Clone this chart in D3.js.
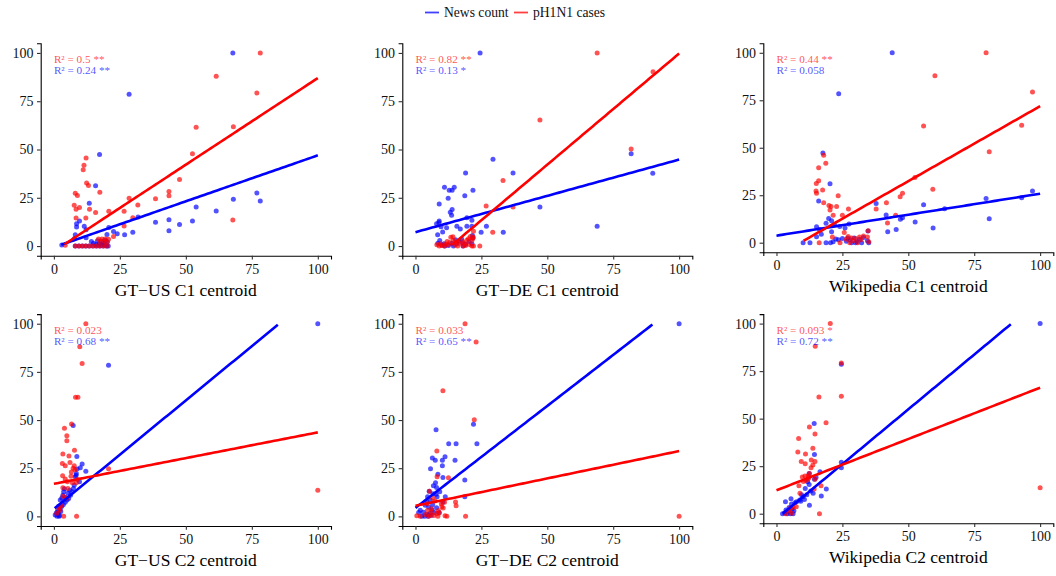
<!DOCTYPE html>
<html>
<head>
<meta charset="utf-8">
<script src="https://cdn.jsdelivr.net/npm/d3@7"></script>
<style>
  html, body { margin: 0; padding: 0; background: #fff; }
  svg { display: block; font-family: "Liberation Serif", "DejaVu Serif", serif; }
  svg text { font-family: "Liberation Serif", "DejaVu Serif", serif; }
</style>
</head>
<body>
<svg id="chart" width="1056" height="576"></svg>
<script>
// Series names and colours
const seriesNames = ["News count", "pH1N1 cases"];
const seriesColors = ["#0000ff", "#ff0000"];

// Panel titles (x-axis labels)
const panelTitles = [
  "GT\u2212US C1 centroid", "GT\u2212DE C1 centroid", "Wikipedia C1 centroid",
  "GT\u2212US C2 centroid", "GT\u2212DE C2 centroid", "Wikipedia C2 centroid"
];

// Axis ticks
const tickValues = [0, 25, 50, 75, 100];

// R² annotations per panel
const casesR2 = ["0.5 **", "0.82 **", "0.44 **", "0.023", "0.033", "0.093 *"];
const newsR2 = ["0.24 **", "0.13 *", "0.058", "0.68 **", "0.65 **", "0.72 **"];

// Linear fits per panel: [intercept, slope, xmin, xmax]
const casesFit = [
  [-2.7, 0.897, 2.8, 100], [-15.4, 1.151, 0, 100], [-7.1, 0.79, 10.3, 100],
  [16.9, 0.267, 0, 100], [5.5, 0.284, 0, 100], [12.3, 0.54, 0, 100]
];
const newsFit = [
  [-0.63, 0.476, 2.8, 100], [7.2, 0.376, 0, 100], [3.7, 0.221, 0, 100],
  [3.9, 1.126, 0.3, 100], [4.4, 1.059, 0, 100], [-2.7, 1.152, 2.4, 100]
];

// Observations: [centroid, value]
const usC1Cases = [[78.2,100],[61.5,88],[76.9,79.3],[68,61.8],[53.9,61.5],[52.5,47.8],[47.6,34.5],[43.6,28.3],[43.6,26],[38.5,24.5],[28.5,24.7],[31.8,21.2],[26.6,18],[20.8,18],[29.9,14.7],[26.6,10.4],[67.8,13.5],[22.6,5],[12.2,45.6],[11.4,41.8],[11.1,39.5],[12.4,32.6],[13.1,31.3],[17.4,27.8],[8.1,27.4],[8.9,26.2],[7.7,21.1],[9.7,19.9],[8.4,19],[13.5,19],[15.8,17.4],[8.4,14.5],[12.1,14.5],[16.9,3.6],[18.2,3.6],[19.4,3.7],[20.7,3.5],[17.5,2.2],[19,2.4],[20,1.8],[4.3,0.4],[8.1,0],[9.5,0],[10.8,0],[12.1,0],[13.4,0],[14.8,0],[16.1,0],[17.4,0],[18.7,0],[20,0]];
const usC1News = [[67.8,100],[28.5,78.6],[17.3,47.4],[15.8,31.2],[76.9,27.5],[78.2,23.3],[68,24.2],[53.9,20.2],[61.5,18.1],[13.4,22.1],[43.6,13.6],[38.5,12.3],[47.6,11.1],[52.5,13],[43.6,7.9],[29.9,7.2],[26.8,5.9],[31.9,15],[9.7,13],[8.6,11.5],[8.6,9.8],[11.5,10.3],[12.2,8.5],[8.1,5.9],[12.2,4.3],[20.8,9.6],[22.6,7.5],[24,6.4],[20.1,6],[8.1,0],[9.5,0],[10.8,0],[12.1,0],[13.4,0],[14.8,0],[16.1,0],[17.4,0],[18.7,0],[20,0],[20.6,0],[15,1.5],[16.5,2.8],[17.2,1],[18,2.5],[18.8,1.4],[19.5,3],[20.3,2.2],[14.2,2.3],[17.8,0.5],[19.2,0.6],[16,0.8],[7.7,3.8],[3,0.6]];

const deC1Cases = [[68.9,100],[90.1,90.3],[47.2,65.3],[81.8,50.3],[33.2,34],[37,20.2],[26.8,20.7],[29.3,7.2],[24.4,0],[8.1,0.7],[9.4,1.2],[12.5,0.7],[13.4,4.5],[14.4,2.9],[15.7,2.1],[17.9,2.4],[18.7,1.2],[20.1,3.8],[21.4,2.9],[22,7.6],[21.4,0],[18,0],[16,0],[13,1.8],[11,0],[10,0.3],[14.2,4.8],[19.5,3],[20.8,5],[21.8,4],[12,2.3],[15,0.5],[17,1.5],[19,0.3],[20.5,0.8],[22,0],[9,0],[11.5,1],[21.9,4.7]];
const deC1News = [[24.5,100],[29.4,44.9],[19,37.8],[37,37.8],[81.8,47.8],[90,37.7],[47.2,20.2],[68.9,10.2],[33.3,7.1],[24.9,7.1],[26.9,10.2],[11,30.4],[12.8,28.9],[13.9,28.9],[14.7,30.4],[21.8,28.9],[18.7,26.1],[12.4,24.7],[9,21.8],[13.9,18.9],[13.2,17.5],[13.7,15.9],[19.5,14.7],[9,13],[8.9,12.2],[8,11.5],[9.7,10],[21.4,13.3],[15.7,10.2],[17,8.8],[19.5,10.2],[21.4,10.2],[8.4,5.9],[10.3,7.3],[9.2,2.9],[10.8,1.2],[11.1,0],[14.4,0],[15.7,1.2],[17.9,1.6],[18.1,0],[21.4,1.2],[21.6,5.5],[21.7,4.2],[8.5,1.5],[10,0.5],[12.5,0.3],[16.5,2.5],[19,0.8],[20.3,2.4],[13.8,1.5],[15.2,3.2],[11.8,9.5],[17.5,3.7]];

const wikiC1Cases = [[79.5,100],[60.1,87.9],[97.1,79.3],[55.8,61.4],[93,61.8],[80.7,47.9],[52.5,34.4],[59.3,28.1],[47.8,26],[46.9,24.2],[41.7,21],[37.8,17.7],[42.1,10.4],[45.2,14.4],[25.7,5.4],[23.4,24.7],[17.9,46.1],[18.7,41.8],[16,39.5],[16,32.6],[15.1,31.2],[15,27.2],[15.2,26],[17.5,27.7],[17.9,21],[19.9,19.6],[20.7,19],[22.8,19],[20.3,17.2],[27.3,17.7],[21.5,14.4],[25,14.4],[16.2,0],[24.1,0],[21.2,3],[27.2,3.3],[28.5,2.5],[30,2.2],[31.5,3],[33,3.5],[34.5,3],[29,1],[32,1.5],[26.5,1.8],[34.8,6.3],[35,0.5],[30.8,0],[27.8,0]];
const wikiC1News = [[43.9,100],[23.6,78.4],[17.6,47.2],[20.3,31.1],[16,21.9],[37.8,20.7],[55.8,20],[41.6,14.6],[52.6,10.9],[47,12.3],[47.8,13.2],[63.8,17.9],[79.5,23.3],[97.1,27.2],[93,23.7],[80.7,12.6],[59.4,7.7],[45.4,7],[42.2,5.8],[34.7,6.1],[19.8,12.8],[20.9,11.6],[18.8,10.2],[15.2,8.4],[20.9,5.8],[15.2,3.2],[10.1,0],[12.7,0],[18.8,0],[20.5,0],[21.5,0.5],[22.5,2],[23.5,1.5],[25,2.2],[26.5,0.8],[27,2.5],[28,1.5],[28.5,0],[29.5,2.5],[30.5,0.5],[31.5,1.8],[32.3,0],[33,2.8],[34.5,1],[35,0],[26,7.8],[24,8.5],[16.3,7],[17,4.5],[22,9.5],[27.5,9.8],[30,0]];

const usC2Cases = [[12.1,100],[9.8,88.1],[10.7,79.4],[8.2,61.8],[9.1,61.8],[6.7,47.9],[4,45.7],[4.9,41.9],[4.9,39.3],[3.4,32.4],[5.7,31.3],[7.8,34.3],[3.2,27.5],[4.3,26.3],[6.1,28],[7.7,26.3],[6.6,23],[8,24.2],[3.3,21.1],[4.3,19.4],[5.1,18],[7,17.5],[8.5,17.5],[9,19.2],[3.4,14.9],[5.3,14.5],[20.7,24.7],[100,13.5],[8.6,0],[3.7,0],[1.8,4.3],[2.3,3.2],[2.8,5.5],[4.8,9.5],[3.5,10.5],[6.5,20.8],[7.3,25],[1.1,1.6]];
const usC2News = [[100,100],[20.7,78.5],[7.3,47.2],[8.7,31.1],[10.7,27.2],[12.1,23.4],[8.8,24.6],[8.5,22.3],[8.1,20.6],[9.7,18],[7.7,16.2],[7.4,14.5],[6.8,12.8],[6.3,11],[5.6,9.3],[5,8.5],[4.3,7.3],[3.6,6.1],[3,5.2],[2.4,3.9],[1.4,3],[0.9,1.7],[0.5,0.7],[3.7,12.8],[3.4,11],[4,14.3],[2.4,8.5],[3,9.5],[4.5,9.8],[1.8,5.2],[1.6,1.5],[2.2,0.5],[1.2,0],[2,0],[1.5,2.2],[2.6,2.5],[6,13.6],[5.3,12],[10,25.3],[8.4,21.4]];

const deC2Cases = [[18.8,100],[23,90.5],[10.4,65.2],[22.3,50.2],[8.1,33.9],[12.5,20.1],[8.2,20.6],[15.2,7.4],[15.4,5.5],[19,0],[100,0],[5.3,13.1],[10,5],[8.7,3],[8.1,1.5],[6.2,2.4],[5.6,0.7],[0.5,0.3],[1.8,0],[11.9,0],[11.2,0.3],[10.5,4.3],[4.4,6.5],[7.4,8],[6,4],[9.8,6.5],[4.5,3],[7,0.5],[3.8,1],[9,1.8],[11,7.3],[6.5,9.5],[5,0],[8.5,0]];
const deC2News = [[100,100],[22,47.8],[12.6,37.7],[15.4,37.7],[23.3,37.7],[7.8,45],[6.4,30.3],[7.5,29.1],[11.2,31],[10.2,29.1],[15,29.1],[10.2,26.3],[5.7,24.7],[8.5,21.8],[10.4,20.2],[18.7,18.9],[7.6,17.5],[6.8,15.9],[5.2,13],[8,15],[11.3,10.2],[18.7,10.2],[8.2,10.2],[10.4,7.3],[4.6,10.2],[5.6,8.5],[4.3,7.6],[3.7,5.8],[1.8,3.2],[1.2,2],[3,2.2],[3.5,0],[4.8,0],[5.5,1.5],[6.3,3.5],[6.5,6],[8,4.5],[7.2,2],[4.5,1],[6,0.5],[2.4,0],[9,2],[5,4.8],[7.8,11.5],[9.2,12.8],[6.6,11.8]];

const wikiC2Cases = [[20.4,100],[14.7,88.1],[24.6,79.3],[24.6,61.8],[16.1,61.4],[18.8,47.9],[12.5,45.6],[14.6,41.9],[8.4,39.5],[13.8,34.4],[8.1,32.5],[11,31.4],[9.4,27.4],[10.9,26.3],[13.2,28.2],[14.6,27.4],[13.8,25.6],[13.1,24.2],[10.8,19.8],[9.8,19.3],[12.5,21.2],[11.9,18.1],[14.6,18.1],[8.5,14.7],[16.9,14.7],[14.3,13],[8.9,10.7],[100,13.7],[16.3,0],[7.5,3.7],[4.7,1.6],[3.6,0],[5.8,0.2],[6.3,3.2],[5.2,2.8],[12,20],[11.2,17.5],[10.2,17],[12.3,19]];
const wikiC2News = [[100,100],[24.6,78.6],[14.3,47.5],[14.4,31.2],[24.6,27],[24.6,24.2],[12.4,21.2],[16.5,22.1],[14.4,18.1],[12.4,15.4],[18.9,13],[10.9,13.2],[13.9,10.7],[17,9.3],[11.5,10],[10.1,8.9],[8.8,7.2],[7.6,6.3],[7,5.8],[5.7,5.1],[4.8,3.3],[3.6,1.9],[3.1,0.4],[4.1,0],[5.3,0],[6.3,0],[2.3,0],[3.4,6.3],[5.5,7.9],[10.6,7.5],[12.5,4.4],[9.2,6.5],[13,12],[15,19],[11.8,16.8],[9.5,10],[6.6,1.5],[4.5,1.2],[5.9,2.5]];

const panelCases = [usC1Cases, deC1Cases, wikiC1Cases, usC2Cases, deC2Cases, wikiC2Cases];
const panelNews = [usC1News, deC1News, wikiC1News, usC2News, deC2News, wikiC2News];

// Panel plotting areas: [left, top, right, bottom]
const panelBoxes = [
  [40.7, 43.3, 331, 255.7], [402.3, 43.3, 692.3, 255.7], [763.3, 43.3, 1053.3, 252.2],
  [40.7, 314.1, 331, 526], [402.3, 314.1, 692.3, 526], [763.3, 314.1, 1053.3, 523.2]
];

const serif = "'Liberation Serif', 'DejaVu Serif', serif";
const svg = d3.select("#chart");

// Sample a fitted line at 80 points, dropping parts outside the [0, 100] y-limits
function fitLine(fit) {
  const [a, b, x0, x1] = fit;
  const n = 80;
  const pts = d3.range(n).map(i => {
    const x = x0 + (x1 - x0) * i / (n - 1);
    return [x, a + b * x];
  });
  return pts.filter(p => p[1] >= 0 && p[1] <= 100);
}

panelBoxes.forEach((box, i) => {
  const [l, t, r, b] = box;
  const x = d3.scaleLinear().domain([-5, 105]).range([l, r]);
  const y = d3.scaleLinear().domain([-5, 105]).range([b, t]);
  const g = svg.append("g");

  // Axes
  const xAxis = g.append("g")
    .attr("transform", `translate(0,${b})`)
    .call(d3.axisBottom(x).tickValues(tickValues).tickSizeOuter(0).tickSize(3.7).tickPadding(4.3));
  const yAxis = g.append("g")
    .attr("transform", `translate(${l},0)`)
    .call(d3.axisLeft(y).tickValues(tickValues).tickSizeOuter(0).tickSize(3.7).tickPadding(3.6));
  [xAxis, yAxis].forEach(ax => {
    ax.attr("font-family", serif).attr("font-size", 14);
    ax.select(".domain").attr("stroke", "#000").attr("stroke-width", 1.1);
    ax.selectAll(".tick line").attr("stroke", "#333").attr("stroke-width", 1.1);
    ax.selectAll(".tick text").attr("fill", "#111")
      .attr("font-family", serif).style("font-size", "14px");
  });

  // Points: news first, cases on top
  [panelNews[i], panelCases[i]].forEach((pts, s) => {
    g.append("g").selectAll("circle").data(pts).join("circle")
      .attr("cx", d => x(d[0]))
      .attr("cy", d => y(d[1]))
      .attr("r", 2.5)
      .attr("fill", seriesColors[s])
      .attr("fill-opacity", 0.68);
  });

  // Regression lines
  const line = d3.line().x(d => x(d[0])).y(d => y(d[1]));
  [newsFit[i], casesFit[i]].forEach((fit, s) => {
    g.append("path")
      .attr("d", line(fitLine(fit)))
      .attr("fill", "none")
      .attr("stroke", seriesColors[s])
      .attr("stroke-width", 2.6);
  });

  // R² labels
  [[casesR2[i], 1, 96.6], [newsR2[i], 0, 90.9]].forEach(([txt, s, yv]) => {
    g.append("text")
      .attr("x", x(0))
      .attr("y", y(yv))
      .attr("dy", "0.35em")
      .attr("fill", seriesColors[s])
      .attr("fill-opacity", 0.7)
      .attr("font-family", serif)
      .style("font-size", "11.2px")
      .text("R\u00b2 = " + txt);
  });

  // Axis title
  g.append("text")
    .attr("x", (l + r) / 2)
    .attr("y", b + 40)
    .attr("text-anchor", "middle")
    .attr("fill", "#000")
    .attr("font-family", serif)
    .style("font-size", "17.5px")
    .text(panelTitles[i]);
});

// Legend
const legendItems = [
  { name: seriesNames[0], color: seriesColors[0], x: 425 },
  { name: seriesNames[1], color: seriesColors[1], x: 514 }
];
const legend = svg.append("g");
legendItems.forEach(item => {
  legend.append("line")
    .attr("x1", item.x).attr("x2", item.x + 14)
    .attr("y1", 12.5).attr("y2", 12.5)
    .attr("stroke", item.color).attr("stroke-opacity", 0.75)
    .attr("stroke-width", 1.8);
  legend.append("text")
    .attr("x", item.x + 19)
    .attr("y", 16.7)
    .attr("fill", "#111")
    .attr("font-family", serif)
    .style("font-size", "13.6px")
    .text(item.name);
});
</script>
</body>
</html>
